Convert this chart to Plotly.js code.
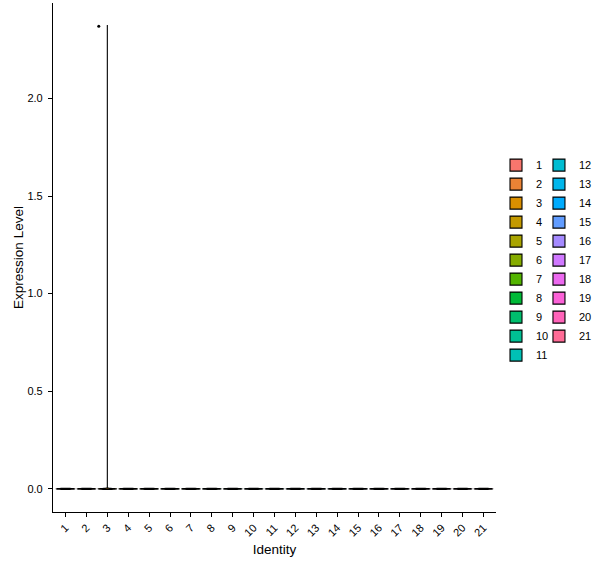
<!DOCTYPE html>
<html>
<head>
<meta charset="utf-8">
<script src="https://cdn.plot.ly/plotly-3.0.1.min.js"></script>
<style>
  html, body { margin: 0; padding: 0; background: #fff; }
  #plot { width: 600px; height: 568px; }
</style>
</head>
<body>
<div id="plot"></div>
<script>
// clusters on the x axis
const clusters = ['1','2','3','4','5','6','7','8','9','10','11','12','13','14','15','16','17','18','19','20','21']
// cells per cluster that have zero expression
const zeroCells = [412, 380, 351, 322, 300, 281, 266, 240, 221, 205, 190, 176, 160, 148, 131, 117, 98, 84, 63, 45, 27]
// cells with non-zero expression, per cluster
const nonZeroValues = [[], [], [2.37], [], [], [], [], [], [], [], [], [], [], [], [], [], [], [], [], [], []]

// ggplot default hue palette: hcl(h, c = 100, l = 65)
function hcl(h, c, l) {
  const hr = h * Math.PI / 180
  const U = c * Math.cos(hr), V = c * Math.sin(hr)
  const Xn = 95.047, Yn = 100, Zn = 108.883
  const Y = l > 8 ? Yn * Math.pow((l + 16) / 116, 3) : Yn * l / 903.3
  const d = Xn + 15 * Yn + 3 * Zn
  const up = U / (13 * l) + 4 * Xn / d
  const vp = V / (13 * l) + 9 * Yn / d
  const X = Y * 9 * up / (4 * vp) / 100
  const Z = Y * (12 - 3 * up - 20 * vp) / (4 * vp) / 100
  const y = Y / 100
  const lin = [
    3.2404542 * X - 1.5371385 * y - 0.4985314 * Z,
    -0.9692660 * X + 1.8760108 * y + 0.0415560 * Z,
    0.0556434 * X - 0.2040259 * y + 1.0572252 * Z,
  ]
  return '#' + lin.map(v => {
    let s = v <= 0.0031308 ? 12.92 * v : 1.055 * Math.pow(v, 1 / 2.4) - 0.055
    s = Math.min(1, Math.max(0, s))
    return Math.round(s * 255).toString(16).padStart(2, '0')
  }).join('')
}

const colors = clusters.map((c, i) => hcl(15 + i * 360 / clusters.length, 100, 65))

// tiny padding around each violin's span, like the noise Seurat adds
const spanPad = 0.0025

const data = clusters.map((c, i) => {
  const y = new Array(zeroCells[i]).fill(0).concat(nonZeroValues[i])
  return {
    type: 'violin',
    name: c,
    x: y.map(() => c),
    y: y,
    legend: i < 11 ? 'legend' : 'legend2',
    width: 0.9,
    scalemode: 'width',
    spanmode: 'manual',
    span: [Math.min(...y) - spanPad, Math.max(...y) + spanPad],
    bandwidth: 0.002,
    fillcolor: colors[i],
    line: { color: '#000000', width: 1.1 },
    points: 'outliers',
    pointpos: -0.91,
    jitter: 0,
    marker: { color: '#000000', size: 3, line: { width: 0 } },
    box: { visible: false },
    meanline: { visible: false },
    hoverinfo: 'skip',
  }
})

const legendFont = { family: 'Liberation Sans, Arial, sans-serif', size: 11, color: '#000000' }

const layout = {
  width: 600,
  height: 568,
  margin: { l: 53, r: 104, t: 3, b: 56 },
  paper_bgcolor: '#ffffff',
  plot_bgcolor: '#ffffff',
  font: { family: 'Liberation Sans, Arial, sans-serif', size: 11, color: '#000000' },
  showlegend: true,
  xaxis: {
    type: 'category',
    categoryarray: clusters,
    range: [-0.6, 20.6],
    showline: true,
    linecolor: '#000000',
    linewidth: 1.1,
    ticks: 'outside',
    ticklen: 4,
    tickcolor: '#000000',
    tickangle: -45,
    tickfont: { size: 11, color: '#000000' },
    showgrid: false,
    zeroline: false,
    title: { text: 'Identity', font: { size: 13.5 }, standoff: 6 },
  },
  yaxis: {
    range: [-0.1185, 2.4885],
    dtick: 0.5,
    tickformat: '.1f',
    showline: true,
    linecolor: '#000000',
    linewidth: 1.1,
    ticks: 'outside',
    ticklen: 4,
    tickcolor: '#000000',
    ticklabelstandoff: 3,
    tickfont: { size: 11, color: '#000000' },
    showgrid: false,
    zeroline: false,
    title: { text: 'Expression Level', font: { size: 13.5 }, standoff: 0 },
  },
  legend: {
    x: 1.0, y: 0.71, xanchor: 'left', yanchor: 'top',
    font: legendFont, bgcolor: 'rgba(0,0,0,0)', tracegroupgap: 0,
  },
  legend2: {
    x: 1.097, y: 0.71, xanchor: 'left', yanchor: 'top',
    font: legendFont, bgcolor: 'rgba(0,0,0,0)', tracegroupgap: 0,
  },
}

Plotly.newPlot('plot', data, layout, { staticPlot: true })
</script>
</body>
</html>
